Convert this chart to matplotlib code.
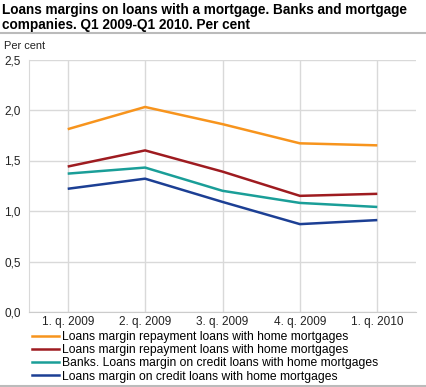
import matplotlib.pyplot as plt
from matplotlib.lines import Line2D

plt.rcParams['font.family'] = ['Liberation Sans', 'DejaVu Sans']

quarters = ['1. q. 2009', '2. q. 2009', '3. q. 2009', '4. q. 2009', '1. q. 2010']
orange_vals = [1.81, 2.03, 1.86, 1.67, 1.65]
red_vals = [1.44, 1.60, 1.39, 1.15, 1.17]
teal_vals = [1.37, 1.43, 1.20, 1.08, 1.04]
blue_vals = [1.22, 1.32, 1.09, 0.87, 0.91]
series_names = ['Loans margin repayment loans with home mortgages',
                'Loans margin repayment loans with home mortgages',
                'Banks. Loans margin on credit loans with home mortgages',
                'Loans margin on credit loans with home mortgages']
colors = ['#f7941d', '#9e1b20', '#1a9e98', '#1c3f94']
yticks = [0.0, 0.5, 1.0, 1.5, 2.0, 2.5]

fig = plt.figure(figsize=(4.26, 3.87), dpi=100)
ax = fig.add_axes([29/426, 1-312/387, (416-29)/426, (312-59.5)/387])

x = list(range(len(quarters)))
for vals, c in zip([orange_vals, red_vals, teal_vals, blue_vals], colors):
    ax.plot(x, vals, color=c, lw=1.8, solid_capstyle='butt', zorder=3)

ax.set_xlim(-0.5, 4.5)
ax.set_ylim(0, 2.5)
ax.set_yticks(yticks)
ax.set_yticklabels([('%.1f' % v).replace('.', ',') for v in yticks])
ax.set_xticks(x)
ax.set_xticklabels(quarters)
ax.tick_params(length=0, labelsize=8.5, colors='#222222', pad=3)
ax.tick_params(axis='y', pad=6)
ax.grid(True, color='#d9d9d9', lw=1)
ax.set_axisbelow(True)
for s in ['top', 'right']:
    ax.spines[s].set_visible(False)
ax.spines['left'].set_color('#d9d9d9')
ax.spines['bottom'].set_color('#cccccc')

# title and the grey rules
fig.text(0.005, 1-3/387, 'Loans margins on loans with a mortgage. Banks and mortgage\ncompanies. Q1 2009-Q1 2010. Per cent',
         fontsize=9.8, fontweight='bold', va='top', ha='left', linespacing=1.1)
fig.add_artist(Line2D([0, 1], [1-33/387, 1-33/387], color='#bbbbbb', lw=1.5))
fig.add_artist(Line2D([0, 1], [1-385.5/387, 1-385.5/387], color='#bbbbbb', lw=1.5))
fig.text(4/426, 1-46/387, 'Per cent', fontsize=7.9, va='center', ha='left', color='#222222')

handles = [Line2D([], [], color=c, lw=1.8) for c in colors]
fig.legend(handles, series_names, loc='upper left', bbox_to_anchor=(32/426, 1-331/387),
           frameon=False, fontsize=8.7, handlelength=2.2, handletextpad=0.3,
           labelspacing=0.1, borderpad=0, borderaxespad=0)

fig.savefig('out.png', dpi=100)
